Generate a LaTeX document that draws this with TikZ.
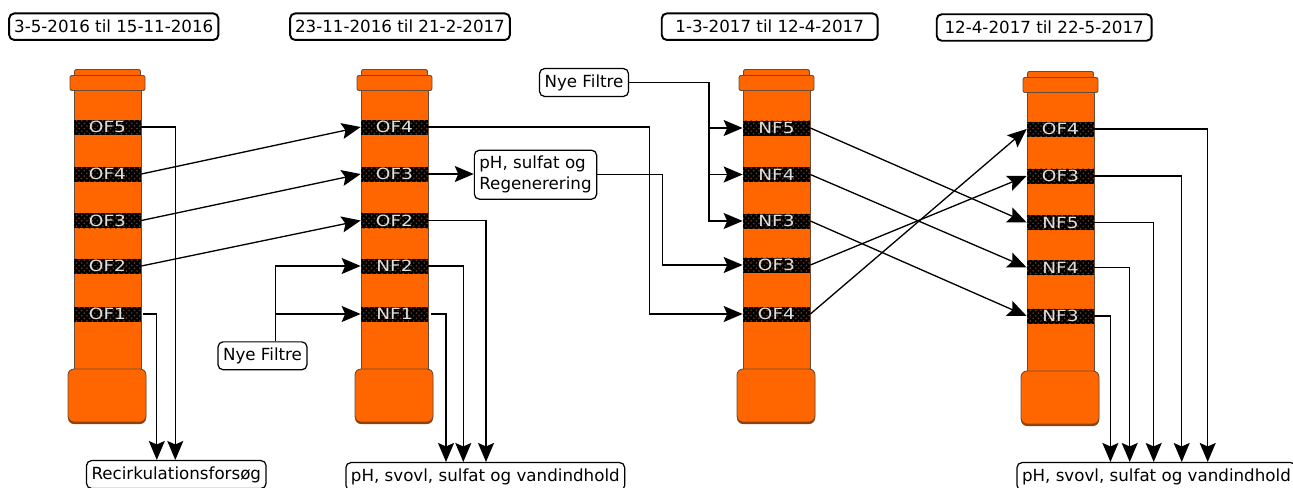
\documentclass[tikz,border=0pt]{standalone}
\usepackage{fontspec}
\setmainfont{DejaVu Sans}
\newfontfamily\bandfont[FakeStretch=1.2]{DejaVu Sans}
\usetikzlibrary{arrows.meta,calc,patterns}
\definecolor{pvc}{HTML}{FF6600}
\definecolor{pvcline}{HTML}{6B4A36}
\definecolor{pvcshade}{HTML}{9A3D00}
\definecolor{grain}{HTML}{6E3F1E}

\begin{document}
\begin{tikzpicture}[
    x=0.02cm, y=-0.02cm,
    datebox/.style={rectangle, draw=black, line width=1.1pt, rounded corners=0.1cm, minimum height=0.53cm, inner xsep=0.1cm, font=\fontsize{9.5}{11}\selectfont},
    notebox/.style={rectangle, draw=black, line width=0.7pt, rounded corners=0.1cm, minimum height=0.49cm, inner xsep=0.1cm, font=\fontsize{9.5}{12}\selectfont},
    band/.style={rectangle, fill=black, postaction={pattern=crosshatch dots, pattern color=grain}, minimum width=1.34cm, minimum height=0.3cm, inner sep=0pt, text=white!88!black, font=\bandfont\fontsize{8.8}{9}\selectfont},
    pipewall/.style={fill=pvc, draw=pvcline, line width=0.5pt},
    arrow/.style={-{Stealth[length=0.38cm, width=0.32cm, inset=0.07cm]}, line width=0.75pt, black},
]
\useasboundingbox (0,0) rectangle (1293,487);

\node[datebox] (d1) at (113.8,26.7) {3-5-2016 til 15-11-2016};
\node[datebox] (d2) at (400,26.7) {23-11-2016 til 21-2-2017};
\node[datebox, minimum width=4.32cm] (d3) at (769.7,26.7) {1-3-2017 til 12-4-2017};
\node[datebox, minimum width=4.3cm] (d4) at (1044.2,27.5) {12-4-2017 til 22-5-2017};

% pipes
\draw[pipewall, rounded corners=0.03cm] (74.5,69.5) rectangle (140.5,78);
\draw[pipewall] (74,90) rectangle (141,370);
\draw[pipewall, rounded corners=0.04cm] (70,75.5) rectangle (145,90.5);
\fill[pvcshade, rounded corners=0.12cm] (68,371.5) rectangle (146,424);
\draw[pipewall, rounded corners=0.12cm] (68,369) rectangle (146,422);

\draw[pipewall, rounded corners=0.03cm] (361.5,69.5) rectangle (427.5,78);
\draw[pipewall] (361,90) rectangle (428,370);
\draw[pipewall, rounded corners=0.04cm] (357,75.5) rectangle (432,90.5);
\fill[pvcshade, rounded corners=0.12cm] (355,371.5) rectangle (433,424);
\draw[pipewall, rounded corners=0.12cm] (355,369) rectangle (433,422);

\draw[pipewall, rounded corners=0.03cm] (743.5,69.5) rectangle (809.5,78);
\draw[pipewall] (743,90) rectangle (810,370);
\draw[pipewall, rounded corners=0.04cm] (739,75.5) rectangle (814,90.5);
\fill[pvcshade, rounded corners=0.12cm] (737,371.5) rectangle (815,424);
\draw[pipewall, rounded corners=0.12cm] (737,369) rectangle (815,422);

\draw[pipewall, rounded corners=0.03cm] (1027.5,71.5) rectangle (1093.5,80);
\draw[pipewall] (1027,92) rectangle (1094,372);
\draw[pipewall, rounded corners=0.04cm] (1023,77.5) rectangle (1098,92.5);
\fill[pvcshade, rounded corners=0.12cm] (1021,373.5) rectangle (1099,426);
\draw[pipewall, rounded corners=0.12cm] (1021,371) rectangle (1099,424);

% filter layers
\node[band] (c1of5) at (107.5,127) {OF5};
\node[band] (c1of4) at (107.5,174) {OF4};
\node[band] (c1of3) at (107.5,220.5) {OF3};
\node[band] (c1of2) at (107.5,266) {OF2};
\node[band] (c1of1) at (107.5,314) {OF1};

\node[band] (c2of4) at (394.5,127) {OF4};
\node[band] (c2of3) at (394.5,174) {OF3};
\node[band] (c2of2) at (394.5,220.5) {OF2};
\node[band] (c2nf2) at (394.5,266) {NF2};
\node[band] (c2nf1) at (394.5,314) {NF1};

\node[band] (c3nf5) at (776.5,128) {NF5};
\node[band] (c3nf4) at (776.5,174.5) {NF4};
\node[band] (c3nf3) at (776.5,221) {NF3};
\node[band] (c3of3) at (776.5,265) {OF3};
\node[band] (c3of4) at (776.5,314) {OF4};

\node[band] (c4of4) at (1060.5,129) {OF4};
\node[band] (c4of3) at (1060.5,176) {OF3};
\node[band] (c4nf5) at (1060.5,222.5) {NF5};
\node[band] (c4nf4) at (1060.5,267.5) {NF4};
\node[band] (c4nf3) at (1060.5,316) {NF3};

\node[notebox] (recirk) at (176.3,474.5) {Recirkulationsforsøg};
\node[notebox, minimum height=0.5cm] (nye1) at (262.5,355.8) {Nye Filtre};
\node[notebox, minimum height=0.52cm] (nye2) at (584,82.5) {Nye Filtre};
\node[notebox, align=left, minimum height=0.96cm] (regen) at (535.5,174.7) {pH, sulfat og\\Regenerering};
\node[notebox, minimum height=0.5cm] (result1) at (485.3,476.5) {pH, svovl, sulfat og vandindhold};
\node[notebox, minimum height=0.5cm] (result2) at (1156.4,476.5) {pH, svovl, sulfat og vandindhold};

\draw[arrow] (c1of5.east) -| ($(recirk.north)+(-1,0)$);
\draw[arrow] ([xshift=0.04cm]c1of1.east) -| ($(recirk.north)+(-19.5,0)$);
\draw[arrow] (c1of4.east) -- (c2of4.west);
\draw[arrow] (c1of3.east) -- (c2of3.west);
\draw[arrow] (c1of2.east) -- (c2of2.west);

\coordinate (feed1) at ($(nye1.north)+(13,0)$);
\draw[arrow] (feed1) |- (c2nf2.west);
\draw[arrow] (feed1 |- c2nf1.west) -- (c2nf1.west);

\draw[arrow] (c2of3.east) -- (c2of3.east -| regen.west);
\draw[arrow] (c2of4.east) -- ++(221,0) |- (c3of4.west);
\draw[arrow] (regen.east) -- ++(65,0) |- (c3of3.west);
\draw[arrow] (c2of2.east) -| ($(result1.north)+(0.7,0)$);
\draw[arrow] (c2nf2.east) -| ($(result1.north)+(-22,0)$);
\draw[arrow] ([xshift=0.06cm]c2nf1.east) -| ($(result1.north)+(-39.3,0)$);

\coordinate (feed2) at ($(nye2.east)+(80,0)$);
\draw[arrow] (nye2.east) -- (feed2) |- (c3nf3.west);
\draw[arrow] (feed2 |- c3nf5.west) -- (c3nf5.west);
\draw[arrow] (feed2 |- c3nf4.west) -- (c3nf4.west);

\draw[arrow] (c3nf5.east) -- (c4nf5.west);
\draw[arrow] (c3nf4.east) -- (c4nf4.west);
\draw[arrow] (c3nf3.east) -- (c4nf3.west);
\draw[arrow] (c3of3.east) -- (c4of3.west);
\draw[arrow] (c3of4.east) -- (c4of4.west);

\draw[arrow] (c4of4.east) -| ($(result2.north)+(51.3,0)$);
\draw[arrow] (c4of3.east) -| ($(result2.north)+(25.3,0)$);
\draw[arrow] (c4nf5.east) -| ($(result2.north)+(-2.7,0)$);
\draw[arrow] (c4nf4.east) -| ($(result2.north)+(-26.7,0)$);
\draw[arrow] (c4nf3.east) -| ($(result2.north)+(-46,0)$);
\end{tikzpicture}
\end{document}
